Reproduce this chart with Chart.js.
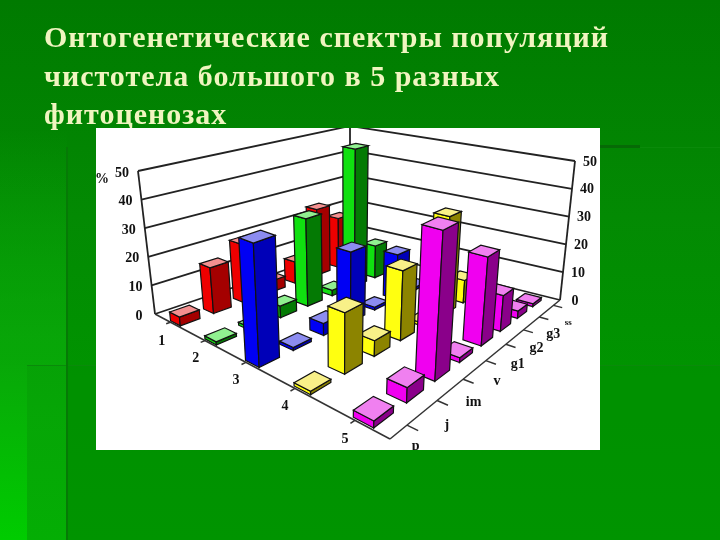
<!DOCTYPE html>
<html lang="ru">
<head>
<meta charset="utf-8">
<title>Онтогенетические спектры</title>
<script src="https://cdn.jsdelivr.net/npm/chart.js@4"></script>
<style>
    html, body { margin: 0; padding: 0; }
    #slide {
        position: relative; width: 720px; height: 540px; overflow: hidden;
        background: linear-gradient(180deg, #007a00 0%, #038a03 40%, #009400 70%, #009800 100%);
    }
    .deco { position: absolute; }
    #glow { left: 0; top: 130px; width: 67px; height: 410px; background: linear-gradient(180deg, rgba(10,160,10,0) 0%, rgba(10,170,10,.8) 50%, #05b505 100%); }
    #strip { left: 0; top: 365px; width: 27px; height: 175px; background: linear-gradient(180deg, #08a808 0%, #00cc00 100%); }
    #rect { left: 27px; top: 365px; width: 693px; height: 175px; border-top: 1px solid #0a8a0a; background: rgba(0,120,0,.12); }
    #vline { left: 66px; top: 147px; width: 2px; height: 393px; background: #067a06; }
    #hbar { left: 600px; top: 145px; width: 40px; height: 3px; background: #066a06; }
    #hline { left: 640px; top: 147px; width: 80px; height: 1px; background: #0a8a0a; }
    #title {
        position: absolute; left: 44px; top: 18px; width: 660px; margin: 0;
        font: bold 30px/38.5px "Liberation Serif", serif; letter-spacing: 1px;
        color: #f0f5c0; filter: blur(0.35px); white-space: nowrap;
    }
    #panel { position: absolute; left: 96px; top: 128px; width: 504px; height: 322px; background: #fff; }
    #chart { position: absolute; left: 0; top: 0; filter: blur(0.55px); }
</style>
</head>
<body>
<div id="slide">
    <div class="deco" id="glow"></div>
    <div class="deco" id="strip"></div>
    <div class="deco" id="rect"></div>
    <div class="deco" id="vline"></div>
    <div class="deco" id="hbar"></div>
    <div class="deco" id="hline"></div>
    <h1 id="title">Онтогенетические спектры популяций<br>чистотела большого в 5 разных<br>фитоценозах</h1>
    <div id="panel"></div>
    <canvas id="chart" width="720" height="540"></canvas>
</div>
<script>
// Стадии, фитоценозы и доли (%)
const stages = ['p', 'j', 'im', 'v', 'g1', 'g2', 'g3', 'ss'];
const stands = ['1', '2', '3', '4', '5'];
const percentTicks = [0, 10, 20, 30, 40, 50];
const stand1 = [3, 16, 21, 4, 8, 25, 19, 1];
const stand2 = [1, 1, 4, 31, 2, 51, 12, 1];
const stand3 = [39, 1, 4, 24, 1, 16, 1, 1];
const stand4 = [1, 19, 5, 23, 1, 34, 8, 1];
const stand5 = [2, 4.5, 46, 1.5, 29, 12, 2.5, 1];

const faceColors = [
    { left: '#ee0000', right: '#a40000', top: '#f49090' },
    { left: '#10e010', right: '#047a04', top: '#90f090' },
    { left: '#0000f4', right: '#0000b8', top: '#8c8cf0' },
    { left: '#ffff10', right: '#8c8400', top: '#f8f088' },
    { left: '#f000f0', right: '#8a008a', top: '#f080f0' }
];

// Углы пола и углы уровня 50 % на экране: слева, спереди, справа, сзади
const floorQuad = [[155, 314], [390, 439], [560, 300], [350, 248]];
const topQuad = [[138, 171], [396, 258], [575, 161], [350, 126]];

function makeHomography(q) {
    const [[x0, y0], [x1, y1], [x2, y2], [x3, y3]] = q;
    const dx1 = x1 - x2, dx2 = x3 - x2, sx = x0 - x1 + x2 - x3;
    const dy1 = y1 - y2, dy2 = y3 - y2, sy = y0 - y1 + y2 - y3;
    const det = dx1 * dy2 - dx2 * dy1;
    const g = (sx * dy2 - dx2 * sy) / det;
    const h = (dx1 * sy - sx * dy1) / det;
    return (u, v) => {
        const w = g * u + h * v + 1;
        return [
            ((x1 - x0 + g * x1) * u + (x3 - x0 + h * x3) * v + x0) / w,
            ((y1 - y0 + g * y1) * u + (y3 - y0 + h * y3) * v + y0) / w
        ];
    };
}

const floorMap = makeHomography(floorQuad);
const topMap = makeHomography(topQuad);

// u: от фитоценоза 1 к 5, v: от p к ss, k: 0..1 по высоте
function project(u, v, k) {
    const a = floorMap(u, v);
    const b = topMap(u, v);
    return [a[0] + (b[0] - a[0]) * k, a[1] + (b[1] - a[1]) * k];
}

function poly(ctx, pts, fill) {
    ctx.beginPath();
    pts.forEach((p, i) => (i ? ctx.lineTo(p[0], p[1]) : ctx.moveTo(p[0], p[1])));
    ctx.closePath();
    if (fill) {
        ctx.fillStyle = fill;
        ctx.fill();
    }
    ctx.stroke();
}

function line(ctx, a, b) {
    ctx.beginPath();
    ctx.moveTo(a[0], a[1]);
    ctx.lineTo(b[0], b[1]);
    ctx.stroke();
}

const bars3d = {
    id: 'bars3d',
    beforeDatasetsDraw(chart) {
        const ctx = chart.ctx;
        const { x, y, z } = chart.scales;
        const fracX = i => (x.getPixelForValue(i) - x.left) / x.width;
        const fracZ = i => (z.getPixelForValue(i) - z.left) / z.width;
        const fracY = val => (y.bottom - y.getPixelForValue(val)) / y.height;
        const halfX = 0.29 / stages.length;
        const halfZ = 0.15 / stands.length;
        // ряды стоят чуть ближе к передним осям
        const rowShift = 0.02;
        const colShift = -0.02;

        ctx.save();
        ctx.beginPath();
        ctx.rect(96, 128, 504, 322);
        ctx.clip();

        // Стенки и сетка
        ctx.strokeStyle = '#222';
        ctx.lineWidth = 1.8;
        percentTicks.forEach(t => {
            const k = fracY(t);
            line(ctx, project(0, 0, k), project(0, 1, k));
            line(ctx, project(0, 1, k), project(1, 1, k));
        });
        line(ctx, project(0, 0, 0), project(0, 0, 1));
        line(ctx, project(0, 1, 0), project(0, 1, 1));
        line(ctx, project(1, 1, 0), project(1, 1, 1));

        // Оси пола и засечки
        ctx.lineWidth = 1.5;
        ctx.strokeStyle = '#333';
        line(ctx, project(0, 0, 0), project(1, 0, 0));
        line(ctx, project(1, 0, 0), project(1, 1, 0));
        stands.forEach((s, i) => {
            const u = fracZ(i);
            line(ctx, project(u, 0, 0), project(u, -0.015, 0));
        });
        stages.forEach((s, i) => {
            const v = fracX(i);
            line(ctx, project(1, v, 0), project(1.03, v, 0));
        });

        // Столбики: от дальних к ближним
        ctx.lineWidth = 1.2;
        ctx.strokeStyle = '#111';
        chart.data.datasets.forEach((ds, s) => {
            const c = faceColors[s];
            const u0 = fracZ(s) + rowShift - halfZ, u1 = fracZ(s) + rowShift + halfZ;
            for (let i = stages.length - 1; i >= 0; i--) {
                const v0 = fracX(i) + colShift - halfX, v1 = fracX(i) + colShift + halfX;
                const k = fracY(ds.data[i]);
                poly(ctx, [project(u1, v0, 0), project(u0, v0, 0), project(u0, v0, k), project(u1, v0, k)], c.left);
                poly(ctx, [project(u1, v0, 0), project(u1, v1, 0), project(u1, v1, k), project(u1, v0, k)], c.right);
                poly(ctx, [project(u1, v0, k), project(u1, v1, k), project(u0, v1, k), project(u0, v0, k)], c.top);
            }
        });

        // Подписи
        ctx.fillStyle = '#111';
        ctx.font = 'bold 14px "Liberation Serif", serif';
        ctx.textAlign = 'center';
        ctx.textBaseline = 'middle';
        percentTicks.forEach(t => {
            const k = fracY(t);
            const l = project(0, 0, k);
            const r = project(1, 1, k);
            ctx.fillText(String(t), l[0] - 16, l[1] + 2);
            ctx.fillText(String(t), r[0] + 15, r[1] + 1);
        });
        ctx.fillText('%', 102, 179);
        stands.forEach((s, i) => {
            const p = project(fracZ(i), -0.075, 0);
            ctx.fillText(s, p[0] + 13, p[1] + 3 + (stands.length - 1 - i) * 2);
        });
        stages.forEach((s, i) => {
            const p = project(1.09, fracX(i), 0);
            ctx.font = (s === 'ss' ? 'bold 9px' : 'bold 14px') + ' "Liberation Serif", serif';
            ctx.fillText(s, p[0] - 26 + i * 2, p[1] + (i === 0 ? 4 : 10));
        });
        ctx.restore();
        return false;
    }
};

const chart = new Chart(document.getElementById('chart'), {
    type: 'bar',
    data: {
        labels: stages,
        datasets: [stand1, stand2, stand3, stand4, stand5].map((data, i) => ({ label: stands[i], data }))
    },
    plugins: [bars3d],
    options: {
        responsive: false,
        animation: false,
        layout: { padding: 0 },
        plugins: { legend: { display: false }, tooltip: { enabled: false } },
        scales: {
            x: { type: 'category', display: false, offset: true },
            z: { type: 'category', axis: 'x', position: 'bottom', display: false, offset: true, labels: stands },
            y: { type: 'linear', display: false, min: 0, max: 50, ticks: { stepSize: 10 } }
        }
    }
});
</script>
</body>
</html>
